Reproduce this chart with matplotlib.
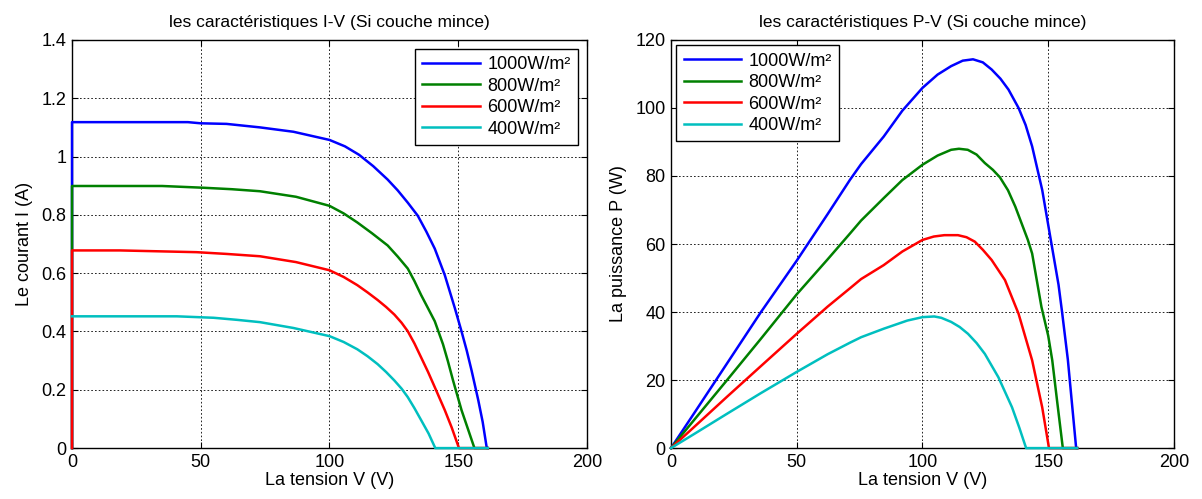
import matplotlib.pyplot as plt
from matplotlib.ticker import FuncFormatter

plt.rcParams['font.family'] = ['Liberation Sans', 'DejaVu Sans']

labels = ['1000W/m²', '800W/m²', '600W/m²', '400W/m²']
colors = ['#0000ff', '#008000', '#ff0000', '#00bfbf']

# I-V curves
v_1000 = [0, 0, 45, 50, 60, 73, 86, 100, 106, 111.5, 117, 122.6, 126.5, 130.4, 134.3, 137.6, 140.9, 144.8, 148.7, 151.3, 153.3, 155.2, 157.8, 159.5, 161.1, 161.5]
i_1000 = [0, 1.118, 1.118, 1.114, 1.112, 1.10, 1.085, 1.057, 1.035, 1.006, 0.967, 0.921, 0.884, 0.842, 0.797, 0.743, 0.684, 0.593, 0.48, 0.40, 0.335, 0.266, 0.164, 0.09, 0, 0]

v_800 = [0, 0, 35, 51, 62, 73, 87, 100, 105.5, 110.8, 116.5, 122.6, 126.5, 130.4, 133, 135.6, 138.2, 140.9, 144.1, 146, 148, 151.3, 154, 156.3, 161.5]
i_800 = [0, 0.899, 0.899, 0.893, 0.888, 0.881, 0.862, 0.831, 0.805, 0.774, 0.737, 0.695, 0.657, 0.616, 0.573, 0.525, 0.481, 0.435, 0.356, 0.298, 0.232, 0.13, 0.06, 0, 0]

v_600 = [0, 0, 18.6, 48.4, 60, 73, 87, 100, 105.5, 110.8, 114.8, 118.7, 122, 125.2, 128, 130.4, 133, 135.6, 138.3, 140.9, 144.8, 147.5, 150.3, 161.5]
i_600 = [0, 0.678, 0.678, 0.672, 0.666, 0.658, 0.638, 0.610, 0.587, 0.559, 0.534, 0.508, 0.484, 0.458, 0.430, 0.401, 0.359, 0.311, 0.261, 0.209, 0.130, 0.07, 0, 0]

v_400 = [0, 40.7, 55, 64, 73, 86, 100, 105.5, 110.8, 114.8, 118.7, 122, 125.2, 128, 130.4, 133, 135.6, 138.5, 141.1, 161.5]
i_400 = [0.452, 0.452, 0.447, 0.440, 0.432, 0.412, 0.384, 0.364, 0.339, 0.315, 0.288, 0.261, 0.232, 0.204, 0.175, 0.137, 0.096, 0.05, 0, 0]

# P-V curves
pv_1000 = [0, 8.9, 22.3, 35.6, 50, 62.3, 71.2, 75.6, 84.6, 92, 100, 106, 111.4, 116, 120.1, 124, 127.5, 131, 134.2, 138.2, 141, 143.6, 147.6, 151.3, 154.1, 155.5, 157.8, 161.1, 161.5]
p_1000 = [0, 9.9, 24.9, 39.8, 55.1, 68.8, 78.9, 83.5, 91.6, 99.2, 105.9, 109.8, 112.3, 113.9, 114.3, 113.4, 111.3, 108.6, 105.4, 100, 95, 88.7, 75.9, 60, 48, 40, 26, 0, 0]

pv_800 = [0, 8.9, 22.3, 35.6, 50, 62.3, 71.2, 75.6, 84.6, 92, 100, 106, 111.4, 114.5, 118, 121.5, 124.8, 128, 130.8, 134, 136.9, 141.9, 143.6, 147.3, 150, 151.6, 153.5, 155.8, 161.5]
p_800 = [0, 8.0, 20.0, 32.0, 45.2, 55.5, 63.1, 66.9, 73.5, 78.8, 83.3, 86, 87.7, 88, 87.7, 86.3, 83.8, 81.8, 79.6, 75.8, 71, 61.2, 57.2, 41.5, 33, 25.8, 14, 0, 0]

pv_600 = [0, 8.9, 22.3, 35.6, 50, 62.3, 71.2, 75.6, 84.6, 92, 100, 104.5, 108.7, 114.1, 117.5, 120.8, 124, 127.5, 132.8, 138.2, 143.6, 147.6, 150.3, 161.5]
p_600 = [0, 6.0, 15.1, 24.0, 33.6, 41.6, 47.0, 49.7, 53.8, 57.8, 61.2, 62.2, 62.6, 62.6, 62, 60.7, 58.3, 55.3, 49.4, 39.5, 25.8, 12, 0, 0]

pv_400 = [0, 8.9, 22.3, 35.6, 50, 62.3, 71.2, 75.6, 84.6, 94, 100, 104.7, 107.5, 111.4, 114.8, 118.1, 121.5, 124.8, 130.2, 135.6, 138.5, 141.2, 161.5]
p_400 = [0, 4.0, 10.1, 16.1, 22.4, 27.6, 31.0, 32.6, 35.1, 37.5, 38.5, 38.7, 38.3, 37.1, 35.6, 33.6, 30.9, 27.7, 20.8, 12, 6, 0, 0]

iv = [(v_1000, i_1000), (v_800, i_800), (v_600, i_600), (v_400, i_400)]
pv = [(pv_1000, p_1000), (pv_800, p_800), (pv_600, p_600), (pv_400, p_400)]

fig = plt.figure(figsize=(12.02, 4.99), dpi=100)
ax1 = fig.add_axes([0.0599, 0.102, 0.4284, 0.818])
ax2 = fig.add_axes([0.5582, 0.102, 0.4185, 0.818])


def style(ax):
    ax.set_xlim(0, 200)
    ax.set_xticks([0, 50, 100, 150, 200])
    ax.tick_params(direction='in', top=True, right=True, labelsize=13, length=4, width=0.8, pad=4)
    ax.grid(True, color='black', linestyle=(0, (2, 2.5)), linewidth=0.6)
    for s in ax.spines.values():
        s.set_linewidth(1.0)
    ax.yaxis.set_major_formatter(FuncFormatter(lambda y, p: '%g' % y))
    ax.set_xlabel('La tension V (V)', fontsize=13, labelpad=1)


for (x, y), c, lab in zip(iv, colors, labels):
    ax1.plot(x, y, color=c, linewidth=1.8, label=lab, clip_on=False, zorder=3)
style(ax1)
ax1.set_ylim(0, 1.4)
ax1.set_yticks([0, 0.2, 0.4, 0.6, 0.8, 1.0, 1.2, 1.4])
ax1.set_ylabel('Le courant I (A)', fontsize=13, labelpad=6)
ax1.set_title('les caractéristiques I-V (Si couche mince)', fontsize=12.5, pad=9)
leg1 = ax1.legend(loc='upper right', fontsize=13, fancybox=False, framealpha=1,
                  edgecolor='black', handlelength=3.2, labelspacing=0.25,
                  borderaxespad=0.5, handletextpad=0.4)
leg1.get_frame().set_linewidth(1.0)

for (x, y), c, lab in zip(pv, colors, labels):
    ax2.plot(x, y, color=c, linewidth=1.8, label=lab, clip_on=False, zorder=3)
style(ax2)
ax2.set_ylim(0, 120)
ax2.set_yticks([0, 20, 40, 60, 80, 100, 120])
ax2.set_ylabel('La puissance P (W)', fontsize=13, labelpad=6)
ax2.set_title('les caractéristiques P-V (Si couche mince)', fontsize=12.5, pad=9)
leg2 = ax2.legend(loc='upper left', fontsize=13, fancybox=False, framealpha=1,
                  edgecolor='black', handlelength=3.2, labelspacing=0.25,
                  borderaxespad=0.3, handletextpad=0.4)
leg2.get_frame().set_linewidth(1.0)

fig.savefig('out.png', dpi=100)
